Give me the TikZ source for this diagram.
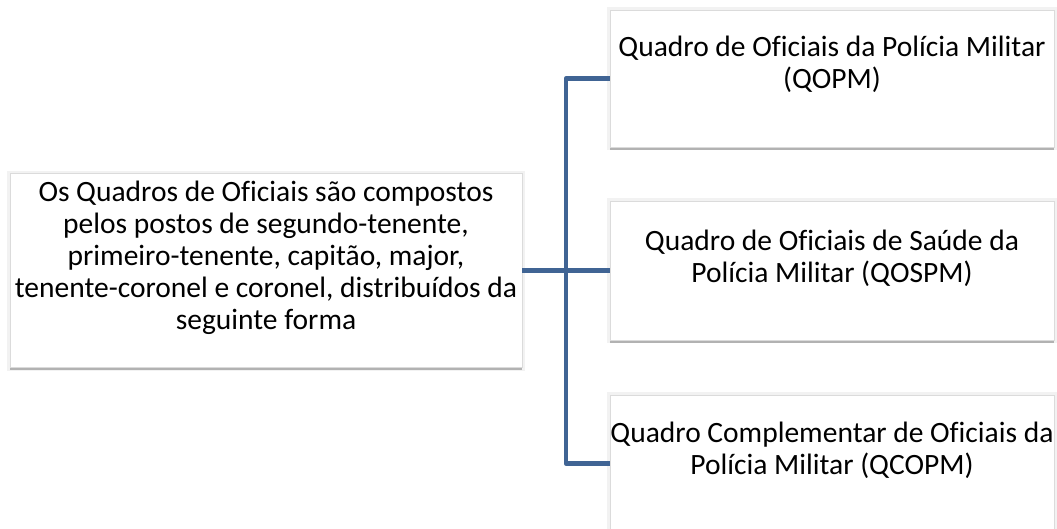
\documentclass[tikz,border=0pt]{standalone}
\usepackage{fontspec}
\setmainfont{Carlito}[Ligatures=NoCommon]
\definecolor{linkblue}{RGB}{64,100,148}
\tikzset{
  card/.style={draw=black!14, line width=0.6pt, fill=white, inner sep=0pt,
    preaction={draw=black!5, line width=6pt},
    preaction={fill=black!30, transform canvas={yshift=-2.5pt}}},
  cardtext/.style={align=center, inner sep=0pt,
    font=\fontsize{29.5}{32}\selectfont},
  link/.style={draw=linkblue, line width=4.5pt, line join=round}
}
\begin{document}
\begin{tikzpicture}[x=1pt,y=-1pt]
\useasboundingbox (0,0) rectangle (1057,528);
\clip (0,0) rectangle (1057,528);
% boxes
\node[card, minimum width=512pt, minimum height=194pt] (L) at (266,270.5) {};
\node[card, minimum width=444pt, minimum height=137pt] (R1) at (832,78.5) {};
\node[card, minimum width=444pt, minimum height=139pt] (R2) at (832,270.5) {};
\node[card, minimum width=444pt, minimum height=137pt] (R3) at (832,463.5) {};
% texts
\node[cardtext] (Lt) at (266,258) {Os Quadros de Oficiais são compostos\\pelos postos de segundo-tenente,\\primeiro-tenente, capitão, major,\\tenente-coronel e coronel, distribuídos da\\seguinte forma};
\node[cardtext] (R1t) at (832,64) {Quadro de Oficiais da Polícia Militar\\(QOPM)};
\node[cardtext] (R2t) at (832,258) {Quadro de Oficiais de Saúde da\\Polícia Militar (QOSPM)};
\node[cardtext] (R3t) at (832,450) {Quadro Complementar de Oficiais da\\Polícia Militar (QCOPM)};
% connectors
\coordinate (J) at (566,270.5);
\draw[link] (L.east) -- (R2.west);
\draw[link] (R1.west) -| (J) |- (R3.west);
\end{tikzpicture}
\end{document}
